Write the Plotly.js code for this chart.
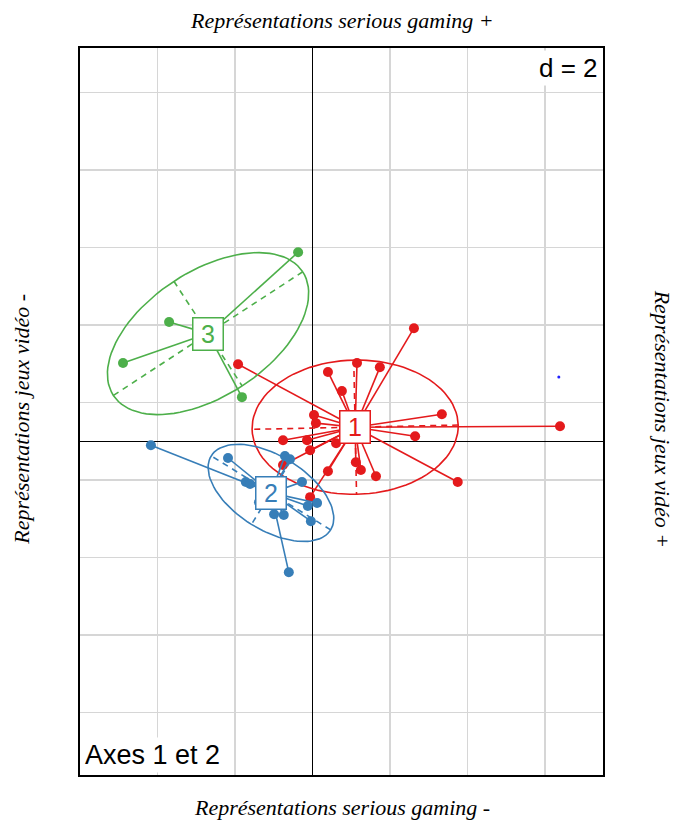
<!DOCTYPE html>
<html>
<head>
<meta charset="utf-8">
<script src="https://cdn.plot.ly/plotly-3.0.1.min.js"></script>
<style>html,body{margin:0;padding:0;background:#fff;}#chart{width:675px;height:821px;}</style>
</head>
<body>
<div id="chart"></div>
<script>
// ---- data (factorial coordinates, axes 1 and 2) ----
const groupNames = ["1", "2", "3"];
const groupColors = ["#E41A1C", "#377EB8", "#4DAF4A"];

const g1x = [2.62, -1.92, 1.15, 1.74, 0.40, 0.76, 0.04, 0.09, 3.34, 2.65, -0.76, -0.14, 0.61, -0.06, 1.12, 1.25, 0.40, 1.64, 3.75, -0.06, 6.39, -0.76];
const g1y = [2.92, 1.99, 2.02, 1.91, 1.79, 1.30, 0.68, 0.47, 0.70, 0.13, 0.03, 0.03, -0.05, -0.23, -0.54, -0.74, -0.77, -0.90, -1.05, -1.44, 0.39, -0.61];

const g2x = [-4.17, -2.18, -1.72, -1.61, -0.71, -0.58, -0.27, -0.12, 0.12, -0.04, -0.99, -0.74, -1.38, -0.61];
const g2y = [-0.10, -0.43, -1.05, -1.10, -0.38, -0.46, -1.05, -1.67, -1.59, -2.06, -1.88, -1.90, -1.57, -3.38];

const g3x = [-0.37, -3.70, -4.89, -1.82];
const g3y = [4.88, 3.08, 2.02, 1.14];

const extraX = [6.36];
const extraY = [1.66];

const gridStep = 2;
const cellipse = 1.5;
const xRange = [-6.0, 7.5];
const yRange = [-8.61, 10.15];

// ---- helpers ----
function mean(a){ return a.reduce((s,v)=>s+v,0)/a.length; }
function ellipse(xs, ys, coeff){
  const mx = mean(xs), my = mean(ys);
  let vx=0, vy=0, cxy=0;
  for(let i=0;i<xs.length;i++){
    vx += (xs[i]-mx)*(xs[i]-mx);
    vy += (ys[i]-my)*(ys[i]-my);
    cxy += (xs[i]-mx)*(ys[i]-my);
  }
  vx/=xs.length; vy/=xs.length; cxy/=xs.length;
  const delta = Math.sqrt((vx-vy)*(vx-vy)+4*cxy*cxy);
  let l1 = (vx+vy+delta)/2, l2 = vx+vy-l1;
  l1 = Math.sqrt(Math.max(l1,0)); l2 = Math.sqrt(Math.max(l2,0));
  let a0, b0;
  if (Math.abs(cxy) < 1e-10){ if(vx>vy){a0=1;b0=0;} else {a0=0;b0=1;} }
  else { a0=1; b0=(l1*l1-vx)/cxy; const n=Math.sqrt(a0*a0+b0*b0); a0/=n; b0/=n; }
  const c11 = coeff*a0*l1, c12 = -coeff*b0*l2, c21 = coeff*b0*l1, c22 = coeff*a0*l2;
  const ex=[], ey=[];
  for(let i=0;i<=100;i++){
    const t = 2*Math.PI*i/100;
    ex.push(mx + c11*Math.cos(t) + c12*Math.sin(t));
    ey.push(my + c21*Math.cos(t) + c22*Math.sin(t));
  }
  const ax = [mx+c11, mx-c11, null, mx+c12, mx-c12];
  const ay = [my+c21, my-c21, null, my+c22, my-c22];
  return {mx, my, ex, ey, ax, ay};
}

const groups = [[g1x,g1y],[g2x,g2y],[g3x,g3y]];
const traces = [];
const annotations = [];
const font = "Arial, Liberation Sans, Helvetica, sans-serif";

groups.forEach(([xs,ys],k)=>{
  const col = groupColors[k];
  const e = ellipse(xs, ys, cellipse);
  // star
  const sx=[], sy=[];
  xs.forEach((x,i)=>{ sx.push(e.mx, x, null); sy.push(e.my, ys[i], null); });
  traces.push({x:sx, y:sy, mode:'lines', line:{color:col, width:1.6}, hoverinfo:'skip'});
  traces.push({x:e.ex, y:e.ey, mode:'lines', line:{color:col, width:1.6}, hoverinfo:'skip'});
  traces.push({x:e.ax, y:e.ay, mode:'lines', line:{color:col, width:1.6, dash:'6px,5px'}, hoverinfo:'skip'});
  traces.push({x:xs, y:ys, mode:'markers', marker:{color:col, size:10}, hoverinfo:'x+y'});
  annotations.push({x:e.mx, y:e.my, xref:'x', yref:'y', text:groupNames[k], showarrow:false,
    font:{family:font, size:25, color:col}, bgcolor:'#ffffff', bordercolor:col, borderwidth:1.5,
    borderpad:1, width:27, height:29});
});
traces.push({x:extraX, y:extraY, mode:'markers', marker:{color:'#2020ff', size:3}, hoverinfo:'skip'});

const titleFont = {family:"Times New Roman, Liberation Serif, serif", size:22, color:'#000', style:'italic'};
annotations.push(
  {xref:'paper', yref:'paper', x:0.5, y:1.0385, text:'Représentations serious gaming +', showarrow:false, font:titleFont, yanchor:'middle'},
  {xref:'paper', yref:'paper', x:0.5, y:-0.045, text:'Représentations serious gaming -', showarrow:false, font:titleFont, yanchor:'middle'},
  {xref:'paper', yref:'paper', x:-0.111, y:0.49, text:'Représentations jeux vidéo -', showarrow:false, font:titleFont, textangle:-90, xanchor:'center', yanchor:'middle'},
  {xref:'paper', yref:'paper', x:1.113, y:0.49, text:'Représentations jeux vidéo +', showarrow:false, font:titleFont, textangle:90, xanchor:'center', yanchor:'middle'},
  {xref:'paper', yref:'paper', x:0.997, y:0.997, text:'d = ' + gridStep, showarrow:false, xanchor:'right', yanchor:'top',
    font:{family:font, size:26, color:'#000'}, bgcolor:'#ffffff', borderpad:2},
  {xref:'paper', yref:'paper', x:0.003, y:0.003, text:'Axes 1 et 2', showarrow:false, xanchor:'left', yanchor:'bottom',
    font:{family:font, size:27, color:'#000'}, bgcolor:'#ffffff', borderpad:2}
);

const layout = {
  width:675, height:821,
  margin:{l:80, r:72, t:48, b:46},
  paper_bgcolor:'#fff', plot_bgcolor:'#fff',
  showlegend:false,
  xaxis:{range:xRange, tick0:0, dtick:gridStep, showticklabels:false, ticks:'', gridcolor:'#d6d6d6', gridwidth:1.6,
    zeroline:true, zerolinecolor:'#000', zerolinewidth:1.5, showline:true, mirror:true, linecolor:'#000', linewidth:2},
  yaxis:{range:yRange, tick0:1, dtick:gridStep, showticklabels:false, ticks:'', gridcolor:'#d6d6d6', gridwidth:1.6,
    zeroline:true, zerolinecolor:'#000', zerolinewidth:1.5, showline:true, mirror:true, linecolor:'#000', linewidth:2},
  annotations:annotations
};
Plotly.newPlot('chart', traces, layout, {displayModeBar:false, staticPlot:true});
</script>
</body>
</html>
